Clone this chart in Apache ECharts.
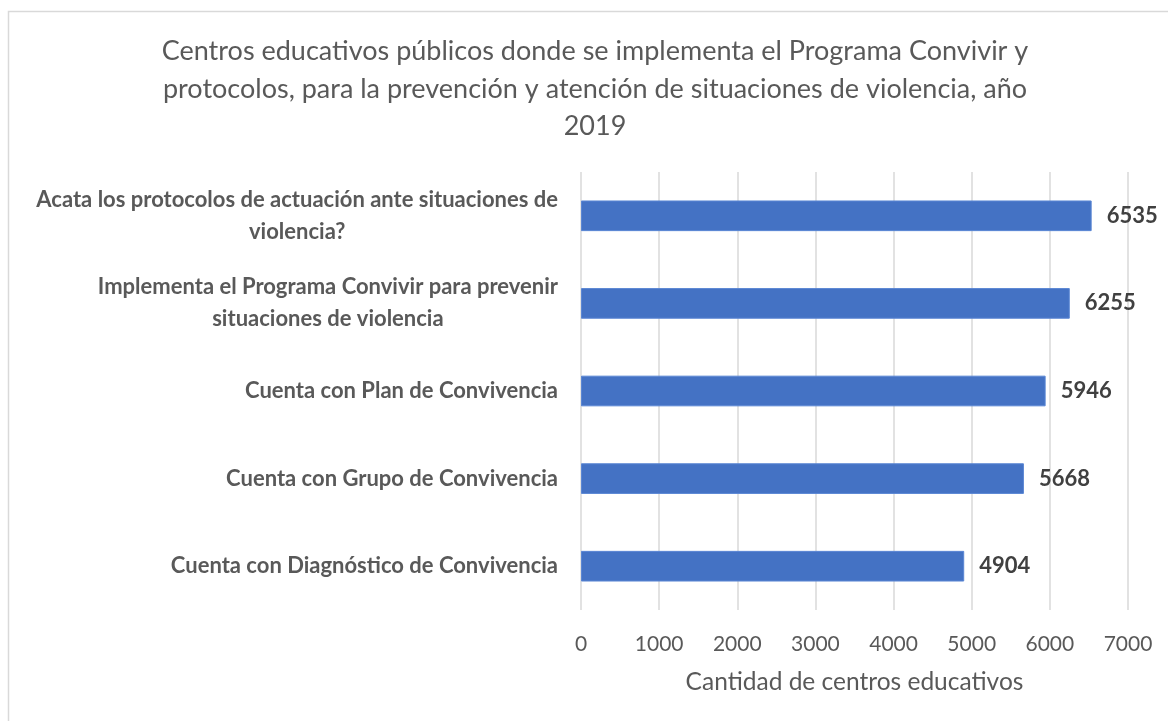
<!DOCTYPE html>
<html>
<head>
<meta charset="utf-8">
<title>Programa Convivir 2019</title>
<script src="https://cdn.jsdelivr.net/npm/echarts@6/dist/echarts.min.js"></script>
<style>
  html, body { margin: 0; padding: 0; background: #ffffff; }
  #chart { width: 1168px; height: 721px; }
</style>
</head>
<body>
<div id="chart"></div>
<script>
// Indicadores (de arriba hacia abajo) y cantidad de centros educativos
const categories = [
  'Acata los protocolos de actuación ante situaciones de\nviolencia?',
  'Implementa el Programa Convivir para prevenir\nsituaciones de violencia',
  'Cuenta con Plan de Convivencia',
  'Cuenta con Grupo de Convivencia',
  'Cuenta con Diagnóstico de Convivencia'
];
const values = [6535, 6255, 5946, 5668, 4904];
const xTicks = [0, 1000, 2000, 3000, 4000, 5000, 6000, 7000];

const titleText = 'Centros educativos públicos donde se implementa el Programa Convivir y\n' +
  'protocolos, para la prevención y atención de situaciones de violencia, año\n2019';

const FONT = 'Lato, "Open Sans", sans-serif';
const GRID = '#d9d9d9';

const chart = echarts.init(document.getElementById('chart'), null, { renderer: 'canvas' });

chart.setOption({
  animation: false,
  backgroundColor: '#ffffff',
  textStyle: { fontFamily: FONT },
  title: {
    text: titleText,
    left: 590,
    top: 28,
    textAlign: 'center',
    textStyle: {
      fontFamily: FONT,
      fontSize: 27,
      fontWeight: 'normal',
      color: '#595959',
      lineHeight: 37.5
    }
  },
  graphic: [{
    type: 'rect',
    silent: true,
    shape: { x: 8.5, y: 11.5, width: 1200, height: 800 },
    style: { fill: 'none', stroke: GRID, lineWidth: 1.5 },
    z: -1
  }],
  grid: {
    left: 581,
    right: 40,
    top: 172,
    bottom: 111,
    containLabel: false,
    outerBoundsMode: 'none'
  },
  xAxis: {
    type: 'value',
    min: xTicks[0],
    max: xTicks[xTicks.length - 1],
    interval: xTicks[1] - xTicks[0],
    name: 'Cantidad de centros educativos',
    nameLocation: 'middle',
    nameGap: 60,
    nameTextStyle: { fontFamily: FONT, fontSize: 24.5, color: '#595959' },
    axisLine: { show: false },
    axisTick: { show: false },
    axisLabel: {
      fontFamily: FONT,
      fontSize: 21,
      color: '#595959',
      margin: 24,
      formatter: function (v) { return String(v); }
    },
    splitLine: { show: true, lineStyle: { color: GRID, width: 1.5 } }
  },
  yAxis: {
    type: 'category',
    inverse: true,
    data: categories,
    axisLine: { show: false },
    axisTick: { show: false },
    axisLabel: {
      margin: 23,
      formatter: function (v) {
        return v.split('\n').map(function (line) { return '{c|' + line + '}'; }).join('\n');
      },
      rich: {
        c: {
          align: 'center',
          fontFamily: FONT,
          fontSize: 22,
          fontWeight: 'bold',
          color: '#595959',
          lineHeight: 32
        }
      }
    }
  },
  series: [{
    type: 'bar',
    data: values,
    barWidth: '35%',
    itemStyle: { color: '#4472c4', borderColor: '#5a86d4', borderWidth: 1 },
    label: {
      show: true,
      position: 'right',
      distance: 15,
      fontFamily: FONT,
      fontSize: 22,
      fontWeight: 'bold',
      color: '#404040'
    }
  }]
});
</script>
</body>
</html>
